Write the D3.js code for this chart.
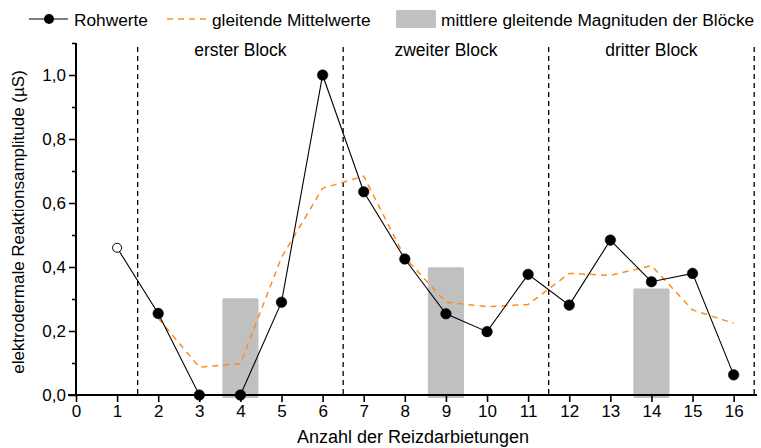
<!DOCTYPE html>
<html><head><meta charset="utf-8">
<script src="https://cdn.jsdelivr.net/npm/d3@7"></script>
<style>body{margin:0;background:#fff}svg{display:block;font-family:"Liberation Sans",Arial,sans-serif}</style>
</head><body><svg id="c" width="761" height="448"></svg>
<script>
const trials = [1,2,3,4,5,6,7,8,9,10,11,12,13,14,15,16];
const rawValues = [0.46,0.255,0,0,0.29,1.0,0.635,0.425,0.254,0.198,0.377,0.281,0.484,0.354,0.38,0.063];
const movingAvgX = [2,3,4,5,6,7,8,9,10,11,12,13,14,15,16];
const movingAvg = [0.24,0.087,0.098,0.43,0.646,0.684,0.43,0.29,0.276,0.283,0.38,0.374,0.404,0.266,0.224];
const blockCenters = [4,9,14];
const blockMagnitudes = [0.302,0.399,0.333];
const blockNames = ["erster Block","zweiter Block","dritter Block"];
const blockBounds = [1.5,6.5,11.5,16.5];
const xTicks = d3.range(0,17);
const yMajor = [0,0.2,0.4,0.6,0.8,1.0];
const yMinor = [0.1,0.3,0.5,0.7,0.9,1.1];
const legendLabels = ["Rohwerte","gleitende Mittelwerte","mittlere gleitende Magnituden der Blöcke"];

const svg = d3.select("#c");
const x = d3.scaleLinear().domain([0,16.5]).range([76,754.2]);
const y = d3.scaleLinear().domain([0,1.1]).range([395,43]);
const fmt = d => d.toFixed(1).replace(".", ",");

// bars
svg.selectAll("rect.bar").data(blockCenters).join("rect")
  .attr("x", (d)=>x(d-0.44)).attr("width", x(0.88)-x(0))
  .attr("y", (d,i)=>y(blockMagnitudes[i])).attr("height",(d,i)=>y(0)+3-y(blockMagnitudes[i]))
  .attr("rx",1.5).attr("fill","#c0c0c0");

// block dividers
svg.selectAll("line.div").data(blockBounds).join("line")
  .attr("x1",d=>x(d)).attr("x2",d=>x(d)).attr("y1",47).attr("y2",y(0))
  .attr("stroke","#000").attr("stroke-width",1.3).attr("stroke-dasharray","5,4");

// block labels
svg.selectAll("text.blk").data(blockCenters).join("text")
  .attr("x",d=>x(d)).attr("y",56).attr("text-anchor","middle")
  .attr("font-size",17.5).attr("fill","#000").text((d,i)=>blockNames[i]);

// moving average
svg.append("path").datum(movingAvgX.map((d,i)=>[d,movingAvg[i]]))
  .attr("d", d3.line().x(d=>x(d[0])).y(d=>y(d[1])))
  .attr("fill","none").attr("stroke","#ff8c1a").attr("stroke-width",1.5).attr("stroke-dasharray","6,5");

// raw line
svg.append("path").datum(trials.map((d,i)=>[d,rawValues[i]]))
  .attr("d", d3.line().x(d=>x(d[0])).y(d=>y(d[1])))
  .attr("fill","none").attr("stroke","#000").attr("stroke-width",1.1);

// axes
svg.append("g").attr("transform",`translate(${x(0)},0)`)
  .call(d3.axisLeft(y).tickValues(yMajor).tickFormat(fmt).tickSize(7).tickPadding(3));
svg.append("g").attr("transform",`translate(${x(0)},0)`)
  .call(d3.axisLeft(y).tickValues(yMinor).tickFormat("").tickSize(4));
svg.append("g").attr("transform",`translate(0,${y(0)})`)
  .call(d3.axisBottom(x).tickValues(xTicks).tickFormat(d3.format("d")).tickSize(7).tickPadding(3));
svg.selectAll(".domain").remove();
svg.selectAll(".tick line").attr("stroke","#000").attr("stroke-width",1.6);
svg.selectAll(".tick text").attr("font-size",17).attr("fill","#000").attr("font-family","'Liberation Sans',Arial,sans-serif");
svg.append("line").attr("x1",x(0)).attr("x2",x(0)).attr("y1",y(1.1)).attr("y2",y(0)+1)
  .attr("stroke","#000").attr("stroke-width",2);
svg.append("line").attr("x1",68).attr("x2",757).attr("y1",y(0)).attr("y2",y(0))
  .attr("stroke","#000").attr("stroke-width",2);

// dots
svg.selectAll("circle.pt").data(trials).join("circle")
  .attr("cx",d=>x(d)).attr("cy",(d,i)=>y(rawValues[i]))
  .attr("r",(d,i)=>i===0?4.5:5.3)
  .attr("fill",(d,i)=>i===0?"#fff":"#000")
  .attr("stroke","#000").attr("stroke-width",(d,i)=>i===0?1:0.5);

// axis titles
svg.append("text").attr("x",413).attr("y",443).attr("text-anchor","middle")
  .attr("font-size",18).text("Anzahl der Reizdarbietungen");
svg.append("text").attr("transform","translate(24,222) rotate(-90)").attr("text-anchor","middle")
  .attr("font-size",17).text("elektrodermale Reaktionsamplitude (µS)");

// legend
const lg = svg.append("g");
lg.append("line").attr("x1",29).attr("x2",68).attr("y1",19).attr("y2",19).attr("stroke","#000").attr("stroke-width",1.2);
lg.append("circle").attr("cx",49).attr("cy",19).attr("r",5).attr("fill","#000");
lg.append("text").attr("x",74).attr("y",25.5).attr("font-size",17.3).text(legendLabels[0]);
lg.append("line").attr("x1",167).attr("x2",207).attr("y1",19).attr("y2",19).attr("stroke","#ff8c1a").attr("stroke-width",1.5).attr("stroke-dasharray","6,5");
lg.append("text").attr("x",212).attr("y",25.5).attr("font-size",17.3).text(legendLabels[1]);
lg.append("rect").attr("x",396).attr("y",10).attr("width",40).attr("height",18).attr("rx",1.5).attr("fill","#c0c0c0");
lg.append("text").attr("x",441).attr("y",25.5).attr("font-size",17.3).text(legendLabels[2]);
</script></body></html>
